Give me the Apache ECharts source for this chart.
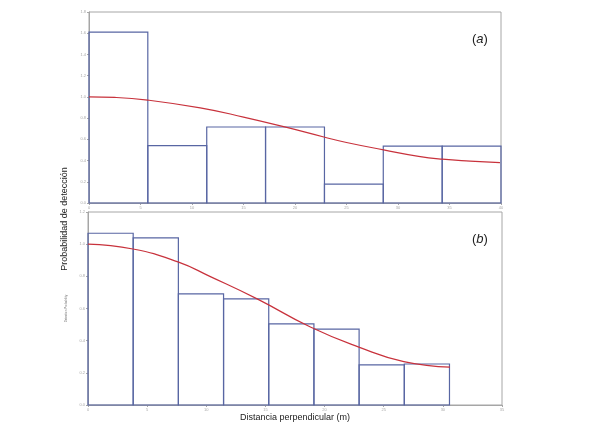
<!DOCTYPE html>
<html>
<head>
<meta charset="utf-8">
<script src="https://cdn.jsdelivr.net/npm/echarts@6/dist/echarts.min.js"></script>
<style>
  html, body { margin: 0; padding: 0; background: #fff; }
  #chart { width: 589px; height: 442px; }
</style>
</head>
<body>
<div id="chart"></div>
<script>
    'use strict';

    // panel (a): 7 bins over 0-40
    var binEdgesA = [0, 5.71, 11.43, 17.14, 22.86, 28.57, 34.29, 40];
    var barsA = [1.61, 0.54, 0.716, 0.716, 0.177, 0.536, 0.536];
    var curveA = [
        [0, 1.0], [2.5, 0.995], [5.7, 0.97], [10.8, 0.896], [15, 0.81],
        [19.2, 0.712], [22.8, 0.622], [25, 0.57], [28.6, 0.501],
        [32, 0.44], [34.3, 0.413], [37, 0.395], [39.9, 0.381]
    ];

    // panel (b): 8 bins over 0-30.6
    var binEdgesB = [0, 3.82, 7.64, 11.46, 15.28, 19.1, 22.92, 26.74, 30.56];
    var barsB = [1.068, 1.039, 0.691, 0.66, 0.505, 0.472, 0.25, 0.255];
    var curveB = [
        [0, 1.0], [3.8, 0.97], [7.6, 0.89], [10.3, 0.80], [14.3, 0.66],
        [18.8, 0.485], [22.9, 0.36], [26.7, 0.27], [30.6, 0.236]
    ];

    var barColor = '#5866a3';
    var curveColor = '#c8323c';
    var axisGray = '#a6a6a6';

    var toBins = function(edges, heights) {
        var out = [];
        for (var i = 0; i < heights.length; i++) {
            out.push([edges[i], edges[i + 1], heights[i]]);
        }
        return out;
    };

    var renderBin = function(params, api) {
        var p0 = api.coord([api.value(0), api.value(2)]);
        var p1 = api.coord([api.value(1), 0]);
        return {
            type: 'rect',
            shape: { x: p0[0], y: p0[1], width: p1[0] - p0[0], height: p1[1] - p0[1] },
            style: { fill: 'none', stroke: barColor, lineWidth: 1.2 }
        };
    };

    var makeX = function(idx, max) {
        return {
            type: 'value', gridIndex: idx, min: 0, max: max, interval: 5,
            axisLine: { lineStyle: { color: axisGray } },
            axisTick: { length: 2, lineStyle: { color: axisGray } },
            axisLabel: { fontSize: 4, color: '#aaa', margin: 3 },
            splitLine: { show: false }
        };
    };

    var makeY = function(idx, max) {
        return {
            type: 'value', gridIndex: idx, min: 0, max: max, interval: 0.2,
            axisLine: { show: true, lineStyle: { color: axisGray } },
            axisTick: { show: true, length: 2, lineStyle: { color: axisGray } },
            axisLabel: { fontSize: 4, color: '#aaa', margin: 3,
                formatter: function(v) { return v.toFixed(1); } },
            splitLine: { show: false }
        };
    };

    var myChart = echarts.init(document.getElementById('chart'));

    var yB = makeY(1, 1.2);
    yB.name = 'Detection Probability';
    yB.nameLocation = 'middle';
    yB.nameGap = 20;
    yB.nameTextStyle = { fontSize: 3, color: '#777' };

    myChart.setOption({
        animation: false,
        grid: [
            { left: 89, width: 412, top: 12, height: 191, show: true, borderColor: axisGray, borderWidth: 1 },
            { left: 88, width: 414, top: 212, height: 193, show: true, borderColor: axisGray, borderWidth: 1 }
        ],
        xAxis: [makeX(0, 40), makeX(1, 35)],
        yAxis: [makeY(0, 1.8), yB],
        series: [
            { type: 'custom', xAxisIndex: 0, yAxisIndex: 0, renderItem: renderBin,
              data: toBins(binEdgesA, barsA), z: 2 },
            { type: 'line', xAxisIndex: 0, yAxisIndex: 0, data: curveA, smooth: true,
              showSymbol: false, lineStyle: { color: curveColor, width: 1.2 }, z: 3 },
            { type: 'custom', xAxisIndex: 1, yAxisIndex: 1, renderItem: renderBin,
              data: toBins(binEdgesB, barsB), z: 2 },
            { type: 'line', xAxisIndex: 1, yAxisIndex: 1, data: curveB, smooth: true,
              showSymbol: false, lineStyle: { color: curveColor, width: 1.2 }, z: 3 }
        ],
        graphic: [
            { type: 'text', left: 472, top: 33,
              style: { text: '({a|a})', fontSize: 13, fontFamily: 'Liberation Sans', fill: '#222',
                       rich: { a: { fontStyle: 'italic', fontSize: 13, fontFamily: 'Liberation Sans', fill: '#222' } } } },
            { type: 'text', left: 472, top: 233,
              style: { text: '({a|b})', fontSize: 13, fontFamily: 'Liberation Sans', fill: '#222',
                       rich: { a: { fontStyle: 'italic', fontSize: 13, fontFamily: 'Liberation Sans', fill: '#222' } } } },
            { type: 'text', x: 65, y: 219, rotation: Math.PI / 2,
              style: { text: 'Probabilidad de detección', fontSize: 9, fontFamily: 'Liberation Sans',
                       fill: '#222', align: 'center', verticalAlign: 'middle' } },
            { type: 'text', x: 295, y: 418,
              style: { text: 'Distancia perpendicular (m)', fontSize: 9, fontFamily: 'Liberation Sans',
                       fill: '#222', align: 'center', verticalAlign: 'middle' } }
        ]
    });
</script>
</body>
</html>
